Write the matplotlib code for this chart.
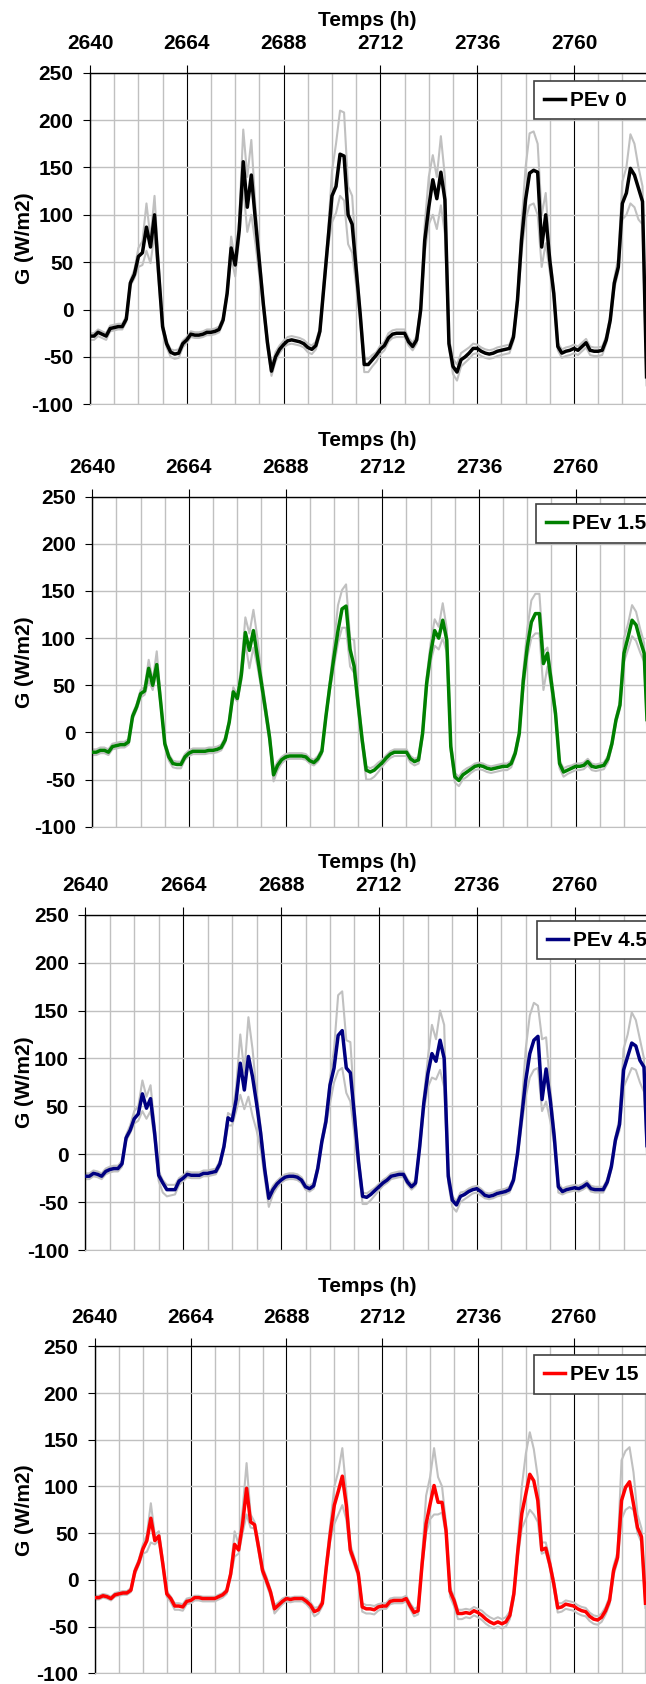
import matplotlib
matplotlib.use("Agg")
import matplotlib.pyplot as plt
from matplotlib.patches import Rectangle
from matplotlib.ticker import MultipleLocator

plt.rcParams['font.family'] = ['Liberation Sans', 'DejaVu Sans']
plt.rcParams['font.weight'] = 'bold'
plt.rcParams['axes.unicode_minus'] = False

# heures 2640 .. 2778
HOURS = list(range(2640, 2779))

# PEv 0
pev0 = [-28, -28, -24, -26, -28, -20, -19, -18, -18, -10, 28, 37, 56, 60, 87, 66, 100, 40, -18, -36, -45, -47, -46, -36,
        -32, -26, -27, -27, -26, -24, -24, -23, -21, -11, 17, 65, 47, 84, 156, 108, 142, 95, 50, 5, -35, -65, -50, -42,
        -37, -33, -32, -33, -34, -36, -40, -42, -38, -23, 25, 72, 120, 130, 164, 162, 100, 90, 42, -5, -58, -58, -53, -48,
        -42, -38, -30, -26, -25, -25, -25, -34, -39, -32, 0, 73, 108, 137, 117, 145, 116, -36, -60, -66, -53, -50, -46, -41,
        -41, -44, -46, -47, -46, -44, -43, -42, -41, -29, 10, 73, 116, 144, 147, 145, 66, 100, 52, 17, -39, -46, -44, -43,
        -41, -43, -39, -35, -43, -44, -44, -43, -32, -11, 28, 45, 112, 123, 149, 142, 128, 114, -71]
pev0_hi = [-25, -25, -21, -23, -25, -17, -16, -15, -15, -7, 31, 42, 65, 72, 112, 75, 120, 50, -15, -33, -42, -43, -42, -33,
           -29, -23, -24, -24, -23, -21, -21, -20, -18, -8, 20, 77, 52, 95, 190, 140, 179, 110, 60, 10, -30, -60, -45, -38,
           -33, -29, -28, -29, -30, -32, -36, -38, -34, -19, 30, 80, 146, 175, 210, 208, 130, 120, 55, 0, -52, -52, -48, -45,
           -38, -34, -25, -22, -21, -21, -21, -30, -35, -28, 5, 90, 140, 163, 140, 183, 140, -30, -52, -58, -46, -43, -40, -36,
           -37, -40, -42, -43, -42, -40, -39, -38, -37, -25, 15, 90, 150, 186, 188, 175, 100, 123, 60, 22, -35, -42, -40, -39,
           -37, -39, -35, -31, -39, -40, -40, -39, -28, -7, 33, 55, 135, 150, 185, 175, 150, 130, -65]
pev0_lo = [-32, -32, -28, -30, -32, -23, -22, -21, -21, -13, 25, 33, 45, 47, 62, 49, 80, 30, -22, -40, -50, -52, -51, -40,
           -35, -29, -30, -30, -29, -27, -27, -26, -24, -14, 14, 55, 35, 75, 130, 82, 100, 70, 35, 0, -40, -70, -55, -46,
           -40, -37, -36, -37, -38, -40, -45, -47, -42, -27, 20, 65, 92, 102, 120, 115, 69, 60, 25, -12, -66, -66, -60, -55,
           -47, -43, -34, -30, -29, -29, -29, -38, -43, -36, -5, 60, 90, 100, 85, 110, 80, -40, -68, -75, -60, -56, -52, -47,
           -46, -49, -51, -52, -51, -49, -48, -47, -46, -33, 5, 60, 95, 110, 112, 100, 45, 70, 40, 12, -43, -51, -49, -48,
           -46, -48, -44, -40, -48, -49, -49, -48, -36, -15, 22, 40, 95, 100, 112, 108, 95, 90, -80]

# PEv 1.5
pev15 = [-21, -21, -19, -19, -21, -15, -14, -13, -13, -10, 17, 27, 41, 44, 68, 50, 72, 31, -12, -26, -33, -34, -34, -26,
         -22, -20, -20, -20, -20, -19, -19, -18, -16, -8, 11, 43, 36, 61, 106, 87, 108, 80, 52, 24, -5, -45, -35, -29,
         -26, -25, -25, -25, -25, -26, -30, -32, -28, -20, 17, 50, 80, 108, 131, 134, 88, 70, 30, -8, -40, -42, -40, -36,
         -32, -27, -23, -21, -21, -21, -21, -28, -31, -29, -1, 52, 84, 108, 100, 119, 98, -15, -47, -51, -45, -42, -39, -36,
         -35, -36, -38, -39, -38, -37, -36, -36, -33, -22, -1, 55, 91, 117, 126, 126, 73, 84, 52, 20, -33, -42, -40, -38,
         -36, -36, -35, -31, -36, -37, -36, -35, -28, -12, 13, 29, 84, 101, 119, 114, 98, 84, -15]
pev15_hi = [-18, -18, -16, -16, -18, -12, -11, -10, -10, -7, 20, 30, 45, 48, 77, 55, 86, 35, -9, -23, -30, -31, -31, -23,
            -19, -17, -17, -17, -17, -16, -16, -15, -13, -5, 14, 48, 40, 70, 122, 105, 130, 100, 60, 30, 0, -40, -31, -26,
            -23, -22, -22, -22, -22, -23, -27, -29, -25, -17, 20, 55, 95, 135, 151, 157, 100, 98, 40, -3, -36, -38, -36, -32,
            -29, -24, -20, -18, -18, -18, -18, -25, -28, -26, 3, 58, 95, 120, 112, 137, 110, -10, -43, -47, -41, -38, -36, -33,
            -32, -33, -35, -36, -35, -34, -33, -33, -30, -19, 3, 65, 110, 140, 147, 147, 85, 90, 60, 25, -30, -38, -36, -35,
            -33, -33, -32, -28, -33, -34, -33, -32, -25, -9, 16, 33, 100, 115, 135, 128, 110, 95, -10]
pev15_lo = [-24, -24, -22, -22, -24, -18, -17, -16, -16, -13, 14, 24, 37, 40, 55, 45, 65, 27, -15, -30, -37, -38, -38, -29,
            -25, -23, -23, -23, -23, -22, -22, -21, -19, -11, 8, 38, 33, 55, 95, 68, 90, 70, 45, 18, -10, -52, -40, -33,
            -29, -28, -28, -28, -28, -29, -33, -35, -31, -23, 14, 45, 70, 95, 111, 111, 70, 63, 22, -14, -50, -50, -47, -42,
            -36, -31, -27, -25, -25, -25, -25, -32, -35, -33, -5, 45, 75, 92, 88, 100, 85, -20, -53, -57, -50, -47, -43, -40,
            -39, -40, -42, -43, -42, -41, -40, -40, -37, -25, -5, 45, 80, 100, 105, 105, 45, 70, 45, 15, -38, -47, -44, -42,
            -40, -40, -39, -35, -40, -41, -40, -39, -32, -15, 10, 25, 75, 88, 102, 97, 85, 75, -20]

# PEv 4.5
pev45 = [-23, -23, -20, -21, -23, -18, -16, -15, -15, -10, 17, 25, 37, 42, 63, 48, 58, 22, -22, -30, -37, -37, -37, -28,
         -25, -21, -22, -22, -22, -20, -20, -19, -18, -10, 8, 38, 35, 57, 95, 67, 102, 81, 53, 22, -16, -46, -37, -31,
         -27, -24, -23, -23, -24, -27, -34, -36, -33, -15, 13, 34, 72, 90, 124, 129, 90, 85, 40, -8, -44, -45, -42, -38,
         -34, -30, -27, -23, -22, -21, -21, -29, -34, -30, 8, 53, 84, 105, 97, 119, 100, -23, -48, -53, -44, -42, -39, -37,
         -36, -39, -43, -44, -43, -41, -40, -39, -37, -27, 1, 39, 77, 105, 119, 123, 57, 89, 57, 18, -34, -39, -37, -36,
         -35, -36, -34, -31, -36, -37, -37, -37, -29, -13, 15, 31, 88, 102, 116, 113, 98, 91, -20]
pev45_hi = [-20, -20, -17, -18, -20, -15, -13, -12, -12, -7, 20, 30, 45, 50, 77, 60, 72, 30, -18, -27, -32, -32, -32, -25,
            -22, -18, -19, -19, -19, -17, -17, -16, -15, -7, 11, 43, 40, 70, 125, 85, 143, 110, 65, 28, -12, -42, -33, -28,
            -24, -21, -20, -20, -21, -24, -31, -33, -30, -12, 16, 40, 78, 110, 166, 170, 119, 117, 50, -2, -40, -41, -38, -35,
            -31, -27, -24, -20, -19, -18, -18, -26, -31, -27, 12, 60, 100, 135, 120, 150, 135, -15, -44, -49, -40, -39, -36, -34,
            -33, -36, -40, -41, -40, -38, -37, -36, -34, -24, 5, 50, 110, 145, 158, 155, 120, 122, 70, 25, -30, -36, -34, -33,
            -32, -33, -31, -28, -33, -34, -34, -34, -26, -10, 18, 38, 110, 125, 148, 140, 120, 100, -15]
pev45_lo = [-26, -26, -23, -24, -26, -21, -19, -18, -18, -13, 14, 22, 32, 35, 45, 37, 45, 15, -28, -40, -44, -43, -42, -32,
            -28, -24, -25, -25, -25, -23, -23, -22, -21, -13, 5, 30, 30, 45, 62, 47, 60, 40, 25, 5, -25, -55, -42, -35,
            -30, -27, -26, -26, -27, -30, -37, -39, -36, -18, 10, 30, 53, 75, 87, 90, 64, 55, 20, -15, -52, -52, -48, -43,
            -38, -33, -30, -26, -25, -24, -24, -32, -37, -33, 4, 45, 70, 80, 78, 88, 70, -30, -55, -60, -50, -47, -44, -41,
            -40, -43, -46, -47, -46, -44, -43, -42, -40, -30, -3, 30, 60, 80, 88, 90, 45, 55, 35, 10, -40, -42, -40, -39,
            -38, -39, -37, -34, -39, -40, -40, -40, -32, -16, 12, 25, 70, 80, 90, 88, 75, 65, -25]

# PEv 15
pev150 = [-19, -19, -17, -18, -20, -16, -15, -14, -14, -11, 9, 19, 33, 42, 66, 42, 47, 17, -15, -20, -28, -28, -29, -23,
          -22, -19, -19, -20, -20, -20, -20, -18, -16, -12, 6, 38, 32, 60, 98, 62, 59, 35, 10, -1, -13, -31, -27, -23,
          -20, -21, -20, -20, -20, -23, -27, -34, -32, -25, 14, 50, 80, 95, 111, 80, 32, 20, 7, -29, -31, -31, -32, -29,
          -28, -28, -23, -22, -22, -22, -20, -28, -35, -33, 17, 60, 81, 101, 83, 83, 53, -12, -22, -36, -36, -35, -36, -33,
          -35, -38, -42, -45, -47, -45, -47, -45, -38, -15, 31, 71, 92, 113, 106, 85, 32, 34, 17, -4, -30, -29, -26, -27,
          -28, -31, -33, -34, -39, -42, -43, -40, -33, -22, 10, 24, 85, 99, 105, 81, 56, 46, -25]
pev150_hi = [-17, -17, -15, -16, -18, -14, -13, -12, -12, -9, 12, 22, 38, 48, 82, 48, 52, 22, -12, -18, -25, -25, -26, -20,
             -19, -17, -17, -18, -18, -18, -18, -16, -14, -10, 9, 52, 38, 75, 125, 70, 62, 40, 14, 3, -10, -27, -24, -20,
             -18, -19, -18, -18, -18, -20, -24, -30, -29, -22, 20, 60, 100, 116, 141, 95, 38, 24, 10, -25, -27, -27, -28, -26,
             -25, -25, -20, -19, -19, -19, -17, -25, -31, -29, 25, 90, 110, 141, 110, 100, 60, -8, -18, -32, -32, -31, -32, -29,
             -31, -33, -37, -40, -42, -40, -42, -40, -34, -11, 40, 100, 135, 158, 140, 110, 40, 40, 22, 0, -25, -25, -22, -23,
             -24, -27, -29, -30, -35, -38, -39, -36, -29, -18, 15, 30, 128, 138, 142, 115, 70, 55, -20]
pev150_lo = [-21, -21, -19, -20, -22, -18, -17, -16, -16, -13, 6, 16, 28, 30, 40, 38, 42, 14, -18, -24, -32, -32, -33, -26,
             -25, -22, -22, -23, -23, -23, -23, -21, -19, -15, 3, 25, 28, 50, 70, 56, 55, 30, 6, -5, -17, -36, -31, -26,
             -23, -24, -23, -23, -23, -26, -31, -39, -36, -28, 10, 42, 60, 70, 80, 65, 28, 16, 3, -34, -36, -36, -37, -33,
             -31, -31, -26, -25, -25, -25, -23, -31, -39, -37, 12, 50, 65, 70, 70, 72, 48, -18, -28, -42, -42, -40, -41, -38,
             -40, -43, -47, -50, -52, -50, -52, -50, -42, -20, 25, 55, 65, 75, 70, 62, 28, 30, 13, -8, -35, -34, -31, -32,
             -33, -36, -38, -39, -44, -47, -48, -45, -37, -26, 5, 20, 65, 75, 78, 75, 50, 40, -30]

LABELS = ["PEv 0", "PEv 1.5", "PEv 4.5", "PEv 15"]
COLORS = ["black", "#008000", "#000080", "#ff0000"]
SERIES = [(pev0, pev0_hi, pev0_lo), (pev15, pev15_hi, pev15_lo),
          (pev45, pev45_hi, pev45_lo), (pev150, pev150_hi, pev150_lo)]

W, H = 646, 1684
# positions des panneaux en pixels : gauche, haut, bas, pixels par heure
LEFT = [90, 92.3, 85.3, 95]
TOP = [72.7, 496.7, 914.7, 1346.3]
BOTTOM = [404.3, 826.7, 1250, 1673.3]
PXH = [4.033, 4.028, 4.078, 3.989]
LEG_X = [534, 535.7, 537, 533.7]
LEG_Y = [80.7, 504, 920.7, 1355]
LEG_H = 38.5
TITLE_Y = [20, 440.7, 863, 1287]
FS = 15

fig = plt.figure(figsize=(W / 100, H / 100), dpi=100)

for i in range(4):
    main, hi, lo = SERIES[i]
    assert len(main) == len(hi) == len(lo) == len(HOURS)
    width_px = 144 * PXH[i]
    height_px = BOTTOM[i] - TOP[i]
    ax = fig.add_axes([LEFT[i] / W, 1 - BOTTOM[i] / H, width_px / W, height_px / H])

    ax.plot(HOURS, hi, color="#c0c0c0", lw=1.5, zorder=2)
    ax.plot(HOURS, lo, color="#c0c0c0", lw=1.5, zorder=2)
    ax.plot(HOURS, main, color=COLORS[i], lw=2.5, zorder=3, label=LABELS[i])

    ax.set_xlim(2640, 2784)
    ax.set_ylim(-100, 250)
    ax.yaxis.set_major_locator(MultipleLocator(50))
    ax.set_xticks(list(range(2640, 2761, 24)))
    ax.xaxis.set_minor_locator(MultipleLocator(6))
    ax.xaxis.tick_top()

    # grilles
    ax.grid(axis="y", color="#c0c0c0", lw=1.0, zorder=0)
    ax.grid(axis="x", which="minor", color="#c0c0c0", lw=1.0, zorder=0)
    ax.grid(axis="x", which="major", color="black", lw=0.8, zorder=1)
    ax.set_axisbelow(True)

    ax.tick_params(axis="x", which="major", direction="out", length=6, width=0.8, pad=8,
                   labelsize=FS, top=True, bottom=False)
    ax.tick_params(axis="x", which="minor", length=0, top=False, bottom=False)
    ax.tick_params(axis="y", direction="out", length=5, width=0.8, pad=7, labelsize=FS)
    for lab in ax.get_xticklabels() + ax.get_yticklabels():
        lab.set_fontweight("bold")

    ax.spines["right"].set_visible(False)
    ax.spines["bottom"].set_color("#c0c0c0")
    ax.spines["top"].set_linewidth(1.0)
    ax.spines["left"].set_linewidth(1.0)

    # cadre de légende qui déborde à droite de l'image, comme dans l'original
    box = Rectangle((LEG_X[i] / W, 1 - (LEG_Y[i] + LEG_H) / H), 150 / W, LEG_H / H,
                    transform=fig.transFigure, facecolor="white", edgecolor="#404040",
                    lw=1.2, zorder=4, clip_on=False)
    ax.add_patch(box)
    ax.legend(loc="upper left",
              bbox_to_anchor=((LEG_X[i] - LEFT[i]) / width_px, 1 - (LEG_Y[i] - TOP[i]) / height_px),
              borderaxespad=0, frameon=False,
              handlelength=1.0, handletextpad=0.25, borderpad=0.5,
              prop={"size": FS, "weight": "bold"}).set_zorder(5)

    fig.text(367 / W, 1 - TITLE_Y[i] / H, "Temps (h)", ha="center", va="center",
             fontsize=FS, fontweight="bold")
    fig.text(25 / W, 1 - (TOP[i] + BOTTOM[i]) / 2 / H, "G (W/m2)", ha="center", va="center",
             rotation=90, fontsize=FS, fontweight="bold")

fig.savefig("out.png", dpi=100)
